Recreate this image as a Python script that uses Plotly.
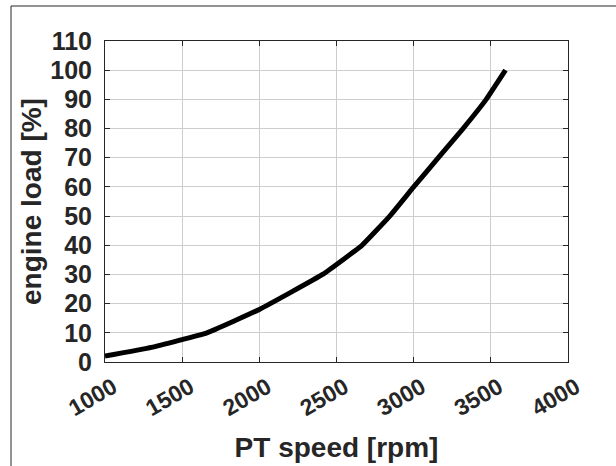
import plotly.graph_objects as go

# Power-turbine speed vs. engine load operating line
pt_speed_rpm = [1000, 1300, 1660, 2000, 2410, 2665, 2845, 3000, 3160, 3320, 3470, 3595]
engine_load_pct = [2, 5, 10, 18, 30, 40, 50, 60, 70, 80, 90, 100]

x_ticks = [1000, 1500, 2000, 2500, 3000, 3500, 4000]
y_ticks = [0, 10, 20, 30, 40, 50, 60, 70, 80, 90, 100, 110]

W, H = 616, 466
ML, MR, MT, MB = 105, 48, 41, 104
TEXT = "#262626"
FONT = "Liberation Sans, Arial, sans-serif"

fig = go.Figure()
fig.add_trace(go.Scatter(
    x=pt_speed_rpm, y=engine_load_pct, mode="lines",
    line=dict(color="black", width=5, shape="spline", smoothing=0.3),
    showlegend=False, hoverinfo="skip",
))

axis_common = dict(
    showline=True, linecolor=TEXT, linewidth=1, mirror="ticks",
    ticks="inside", ticklen=5, tickcolor=TEXT, tickwidth=1,
    showgrid=True, gridcolor="#cdcdcd", gridwidth=1,
    zeroline=False,
)

fig.update_xaxes(
    range=[1000, 4000], tickvals=x_ticks, ticktext=[str(v) for v in x_ticks],
    tickangle=-30, ticklabelshift=8, ticklabelstandoff=2,
    tickfont=dict(family=FONT, size=23, color=TEXT, weight="bold"),
    title=dict(text="PT speed [rpm]", standoff=17,
               font=dict(family=FONT, size=28, color=TEXT, weight="bold")),
    **axis_common,
)
fig.update_yaxes(
    range=[0, 110], tickvals=y_ticks, ticktext=[str(v) for v in y_ticks],
    ticklabelstandoff=7,
    tickfont=dict(family=FONT, size=25, color=TEXT, weight="bold"),
    title=dict(text="engine load [%]", standoff=0,
               font=dict(family=FONT, size=28, color=TEXT, weight="bold")),
    **axis_common,
)

# Outer figure frame (left and top edges visible, running off the page)
pw, ph = W - ML - MR, H - MT - MB
fx0 = (11 - ML) / pw
fx1 = (W + 10 - ML) / pw
fy1 = (H - MB - 6) / ph
fy0 = (H - MB - (H + 10)) / ph
fig.add_shape(type="rect", xref="paper", yref="paper",
              x0=fx0, x1=fx1, y0=fy0, y1=fy1,
              line=dict(color=TEXT, width=1), fillcolor="rgba(0,0,0,0)",
              layer="below")

fig.update_layout(
    width=W, height=H,
    margin=dict(l=ML, r=MR, t=MT, b=MB, autoexpand=False),
    paper_bgcolor="white", plot_bgcolor="white",
)

fig.write_html("out.html")
